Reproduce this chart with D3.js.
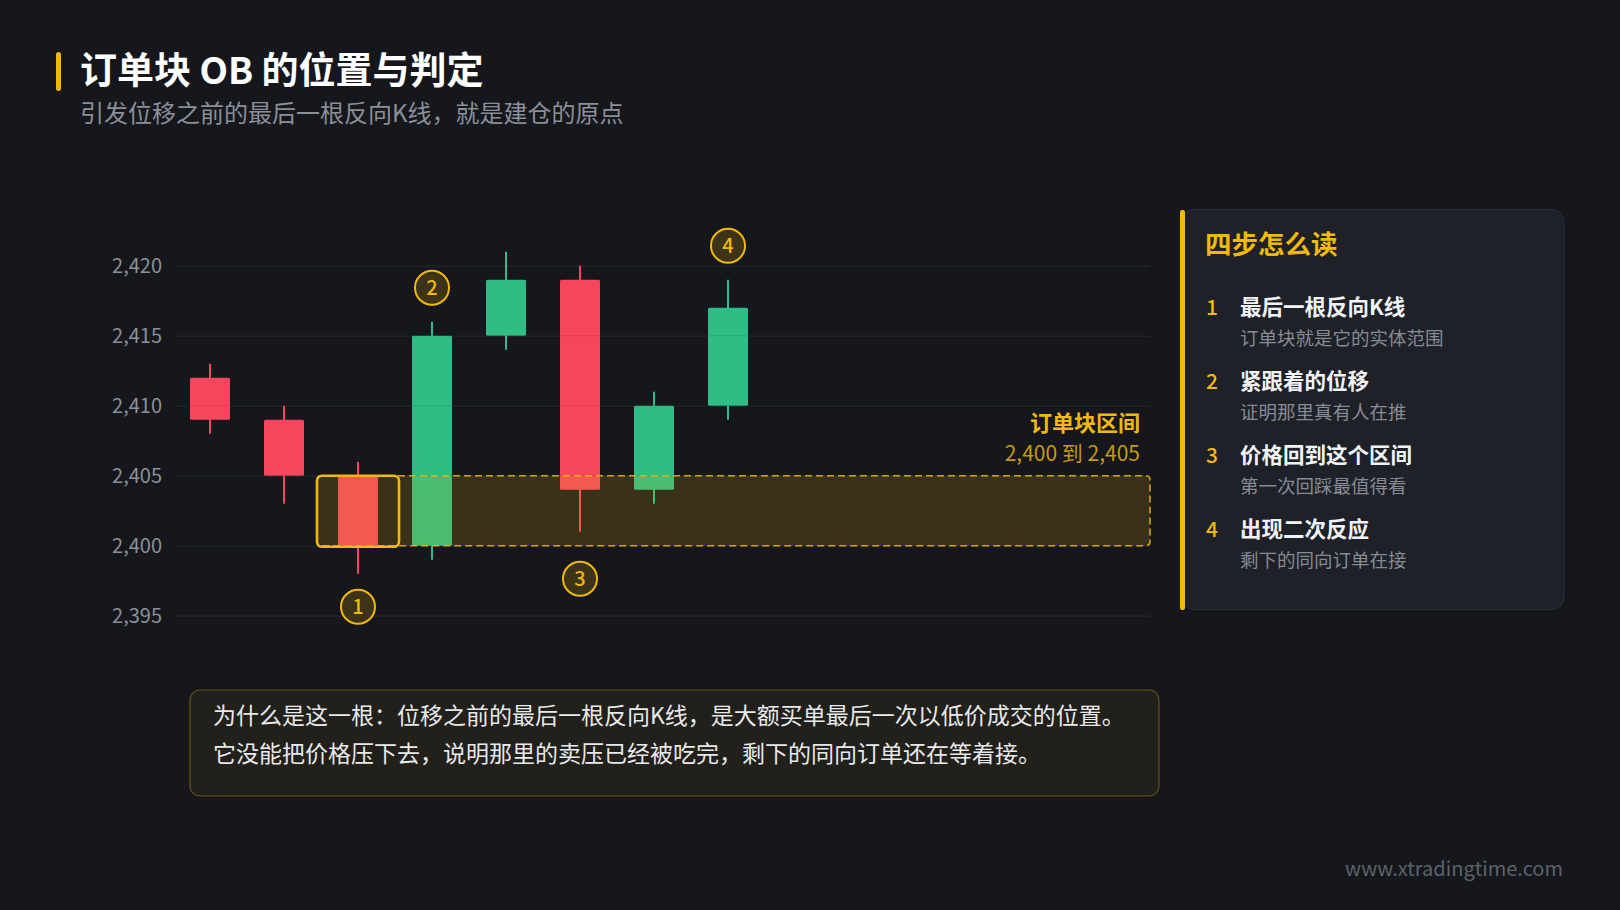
<!DOCTYPE html>
<html>
<head>
<meta charset="utf-8">
<script src="https://cdn.jsdelivr.net/npm/d3@7"></script>
<style>
html,body{margin:0;padding:0;background:#15171c;}
svg{display:block;}
text{font-family:"Noto Sans CJK SC","Noto Sans",sans-serif;}
</style>
</head>
<body>
<script>
// ---- data ----
const categories = ["K1","K2","K3","K4","K5","K6","K7","K8"];
const opens  = [2412, 2409, 2405, 2400, 2415, 2419, 2404, 2410];
const closes = [2409, 2405, 2400, 2415, 2419, 2404, 2410, 2417];
const highs  = [2413, 2410, 2406, 2416, 2421, 2420, 2411, 2419];
const lows   = [2408, 2403, 2398, 2399, 2414, 2401, 2403, 2409];
const yTicks = [2395, 2400, 2405, 2410, 2415, 2420];
const zoneRange = [2400, 2405];
const obIndex = 2;
const markerLabels = ["1","2","3","4"];
const markerCandles = [2, 3, 5, 7];
const markerValues = [2398, 2416, 2400, 2419];
const markerSides = ["below","above","below","above"];
const titleText = "订单块 OB 的位置与判定";
const subtitleText = "引发位移之前的最后一根反向K线，就是建仓的原点";
const zoneTitle = "订单块区间";
const panelTitle = "四步怎么读";
const stepNumbers = ["1","2","3","4"];
const stepTitles = ["最后一根反向K线","紧跟着的位移","价格回到这个区间","出现二次反应"];
const stepNotes = ["订单块就是它的实体范围","证明那里真有人在推","第一次回踩最值得看","剩下的同向订单在接"];
const noteLines = ["为什么是这一根：位移之前的最后一根反向K线，是大额买单最后一次以低价成交的位置。",
                   "它没能把价格压下去，说明那里的卖压已经被吃完，剩下的同向订单还在等着接。"];
const watermark = "www.xtradingtime.com";

// ---- layout ----
const W = 1620, H = 910;
const YELLOW = "#f0b90b", RED = "#f6465d", GREEN = "#2ebd85";
const plotLeft = 176, plotRight = 1150;

const svg = d3.select("body").append("svg").attr("width", W).attr("height", H);
svg.append("rect").attr("width", W).attr("height", H).attr("fill", "#15171c");

// title
svg.append("rect").attr("x", 56).attr("y", 52).attr("width", 5).attr("height", 39).attr("rx", 2.5).attr("fill", YELLOW);
svg.append("text").attr("x", 80).attr("y", 84).attr("font-size", 37).attr("font-weight", 700).attr("fill", "#ffffff").text(titleText);
svg.append("text").attr("x", 80).attr("y", 122).attr("font-size", 24).attr("fill", "#8a8f98").text(subtitleText);

// scales
const x = d3.scalePoint().domain(categories).range([210, 728]);
const y = d3.scaleLinear().domain([2395, 2420]).range([615.7, 265.7]);
const bodyW = 40;

// grid
const grid = svg.append("g").attr("transform", `translate(${plotLeft},0)`)
  .call(d3.axisLeft(y).tickValues(yTicks).tickSize(-(plotRight - plotLeft)).tickFormat(""));
grid.select(".domain").remove();
grid.selectAll("line").attr("stroke", "#262930").attr("stroke-width", 1.2);

// y axis labels
const yAxis = svg.append("g").attr("transform", `translate(${plotLeft},0)`)
  .call(d3.axisLeft(y).tickValues(yTicks).tickSize(0).tickPadding(14).tickFormat(d3.format(",")));
yAxis.select(".domain").remove();
yAxis.selectAll("text").attr("font-size", 20).attr("fill", "#8b9099")
  .attr("font-family", '"Noto Sans CJK SC","Noto Sans",sans-serif');

// candles
const candles = categories.map((c, i) => ({c, o: opens[i], cl: closes[i], h: highs[i], l: lows[i]}));
const cg = svg.append("g");
cg.selectAll("line.wick").data(candles).join("line")
  .attr("x1", d => x(d.c)).attr("x2", d => x(d.c))
  .attr("y1", d => y(d.h)).attr("y2", d => y(d.l))
  .attr("stroke", d => d.cl >= d.o ? GREEN : RED).attr("stroke-width", 2);
cg.selectAll("rect.body").data(candles).join("rect")
  .attr("x", d => x(d.c) - bodyW / 2).attr("width", bodyW)
  .attr("y", d => y(Math.max(d.o, d.cl)))
  .attr("height", d => Math.abs(y(d.o) - y(d.cl)))
  .attr("rx", 1.5)
  .attr("fill", d => d.cl >= d.o ? GREEN : RED);
// faint grid over candles
svg.append("g").selectAll("line").data(yTicks.slice(1, -1)).join("line")
  .attr("x1", plotLeft).attr("x2", plotRight).attr("y1", d => y(d)).attr("y2", d => y(d))
  .attr("stroke", "#000").attr("stroke-opacity", 0.08).attr("stroke-width", 1.2);

// order block zone
const obX = x(categories[obIndex]);
svg.append("rect")
  .attr("x", obX - 41).attr("y", y(zoneRange[1])).attr("width", plotRight - (obX - 41))
  .attr("height", y(zoneRange[0]) - y(zoneRange[1])).attr("rx", 4)
  .attr("fill", YELLOW).attr("fill-opacity", 0.17)
  .attr("stroke", YELLOW).attr("stroke-opacity", 0.85).attr("stroke-width", 1.6).attr("stroke-dasharray", "7 4");
svg.append("rect")
  .attr("x", obX - 41).attr("y", y(zoneRange[1])).attr("width", 82)
  .attr("height", y(zoneRange[0]) - y(zoneRange[1]) + 1).attr("rx", 5)
  .attr("fill", "none").attr("stroke", YELLOW).attr("stroke-width", 2.6);

// zone labels
svg.append("text").attr("x", 1140).attr("y", 431).attr("text-anchor", "end")
  .attr("font-size", 22).attr("font-weight", 700).attr("fill", YELLOW).text(zoneTitle);
svg.append("text").attr("x", 1140).attr("y", 461).attr("text-anchor", "end")
  .attr("font-size", 21).attr("fill", YELLOW).attr("fill-opacity", 0.82)
  .text(`${d3.format(",")(zoneRange[0])} 到 ${d3.format(",")(zoneRange[1])}`);

// markers
const markers = markerLabels.map((m, i) => ({m, c: categories[markerCandles[i]], v: markerValues[i], s: markerSides[i]}));
const mg = svg.append("g").selectAll("g").data(markers).join("g")
  .attr("transform", d => `translate(${x(d.c)},${y(d.v) + (d.s === "below" ? 33 : -34)})`);
mg.append("circle").attr("r", 17).attr("fill", "#15171c");
mg.append("circle").attr("r", 17).attr("fill", YELLOW).attr("fill-opacity", 0.18)
  .attr("stroke", YELLOW).attr("stroke-width", 2);
mg.append("text").attr("text-anchor", "middle").attr("dy", "0.36em")
  .attr("font-size", 20).attr("font-weight", 500).attr("fill", YELLOW).text(d => d.m);

// right panel
svg.append("rect").attr("x", 1182).attr("y", 209.5).attr("width", 382).attr("height", 400).attr("rx", 12)
  .attr("fill", "#1e2128").attr("stroke", "#2b2f37").attr("stroke-width", 1);
svg.append("rect").attr("x", 1180).attr("y", 210).attr("width", 5).attr("height", 400).attr("rx", 2).attr("fill", YELLOW);
svg.append("text").attr("x", 1205).attr("y", 254).attr("font-size", 26.5).attr("font-weight", 700).attr("fill", YELLOW).text(panelTitle);
const steps = stepNumbers.map((n, i) => ({n, t: stepTitles[i], s: stepNotes[i], i}));
const sg = svg.append("g").selectAll("g").data(steps).join("g")
  .attr("transform", d => `translate(0,${d.i * 74})`);
sg.append("text").attr("x", 1206).attr("y", 315).attr("font-size", 21).attr("font-weight", 500).attr("fill", YELLOW).text(d => d.n);
sg.append("text").attr("x", 1240).attr("y", 315).attr("font-size", 21.5).attr("font-weight", 700).attr("fill", "#f2f3f5").text(d => d.t);
sg.append("text").attr("x", 1240).attr("y", 345).attr("font-size", 18.5).attr("fill", "#868b94").text(d => d.s);

// note box
svg.append("rect").attr("x", 190).attr("y", 690).attr("width", 969).attr("height", 106).attr("rx", 10)
  .attr("fill", YELLOW).attr("fill-opacity", 0.06)
  .attr("stroke", YELLOW).attr("stroke-opacity", 0.35).attr("stroke-width", 1.2);
svg.append("g").selectAll("text").data(noteLines).join("text")
  .attr("x", 213).attr("y", (d, i) => 724 + i * 38)
  .attr("font-size", 23).attr("fill", "#e8e9eb").text(d => d);

// watermark
svg.append("text").attr("x", 1563).attr("y", 876).attr("text-anchor", "end")
  .attr("font-size", 20).attr("fill", "#5d626b").text(watermark);
</script>
</body>
</html>
